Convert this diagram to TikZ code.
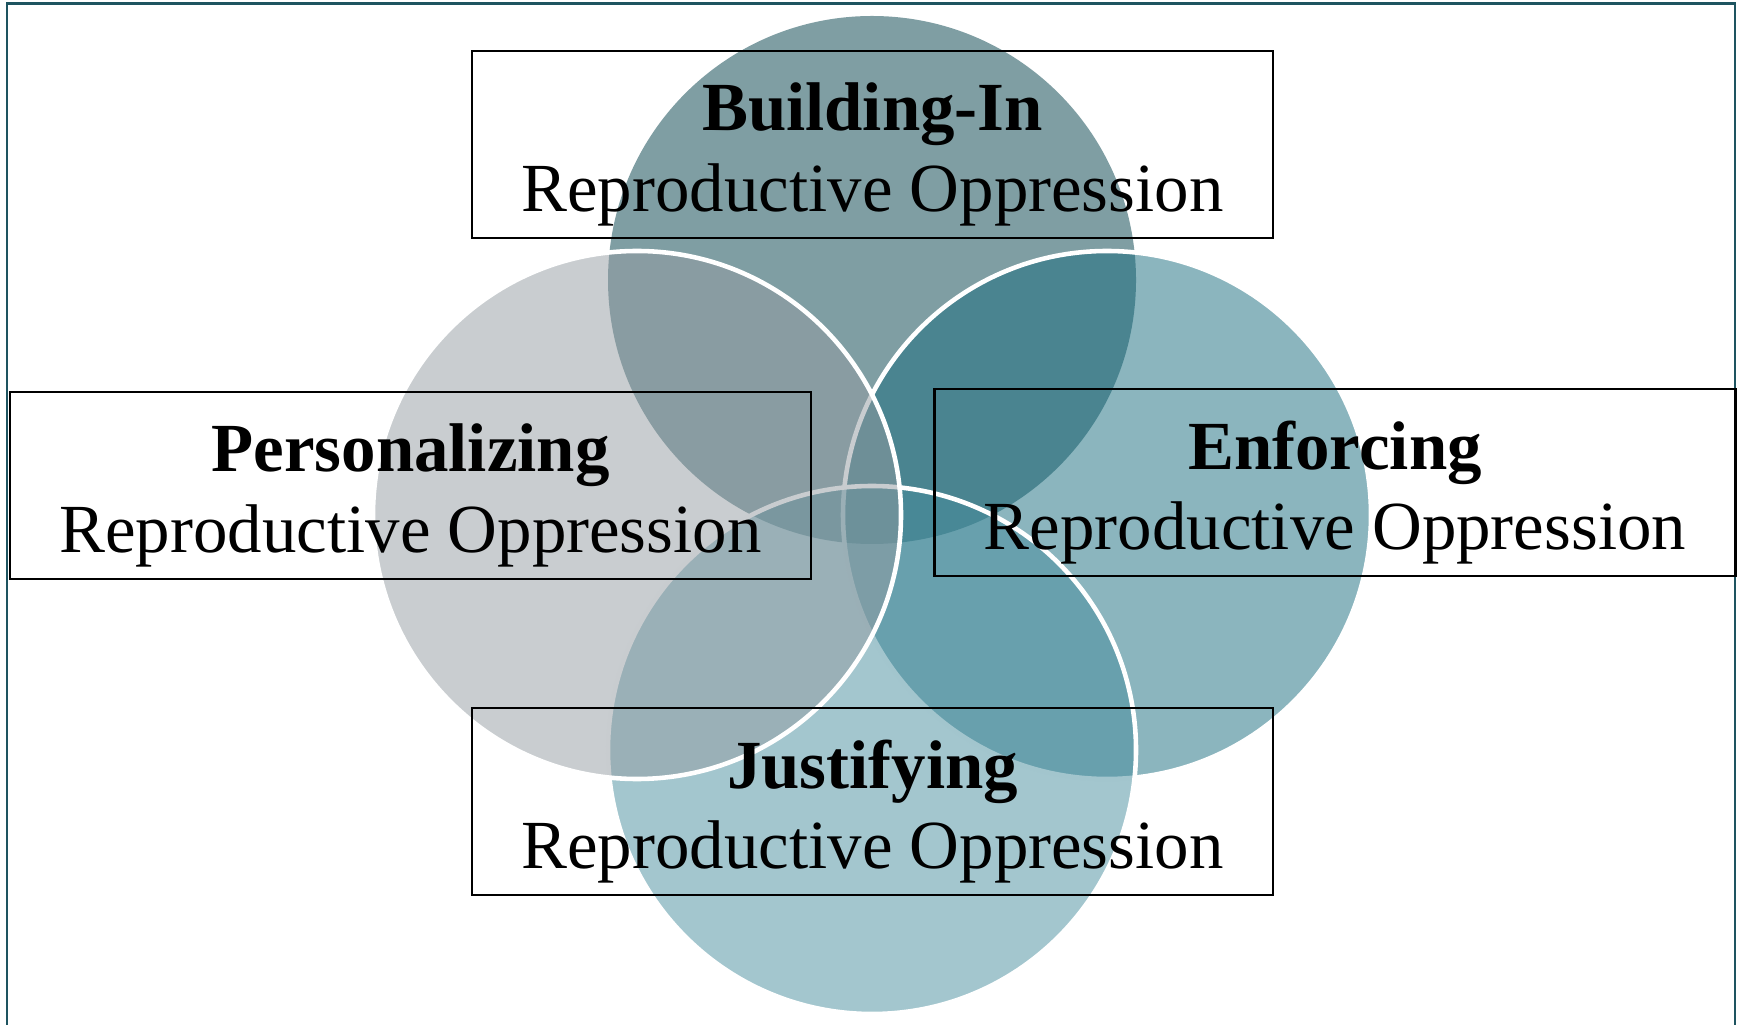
\documentclass[tikz,border=0pt]{standalone}
\usepackage{fontspec}
\setmainfont{Liberation Serif}
\usetikzlibrary{positioning}
\definecolor{frameteal}{RGB}{30,84,96}
\definecolor{buildcol}{RGB}{0,61,71}
\definecolor{enforcecol}{RGB}{23,107,125}
\definecolor{justifycol}{RGB}{71,141,157}
\definecolor{personalcol}{RGB}{147,155,161}
\tikzstyle{petal}=[%
  circle,
  inner sep=0pt,
  minimum size=52.8mm,
  fill opacity=0.5,
  draw=white,
  line width=1.3pt
]
\tikzstyle{labelbox}=[%
  draw,
  line width=0.6pt,
  minimum width=80.1mm,
  minimum height=18.7mm,
  inner sep=0pt
]
\tikzstyle{labeltext}=[%
  inner sep=0pt,
  align=center,
  font=\fontsize{19.6}{22.8}\selectfont
]
\begin{document}
\begin{tikzpicture}[x=0.1mm, y=-0.1mm]
      \useasboundingbox (0,0) rectangle (1737,1025);
      \draw[frameteal, line width=0.7pt] (7,1025) -- (7,3.5) -- (1735,3.5) -- (1735,1025);
      % four overlapping circles
      \node[petal, fill=buildcol, draw=none] (cbuild) at (872,280) {};
      \node[petal, fill=enforcecol] (cenforce) at (1107,515) {};
      \node[petal, fill=justifycol] (cjustify) at (872,750) {};
      \node[petal, fill=personalcol] (cpersonal) at (637,515) {};
      % label boxes
      \node[labelbox] (build) at (872.5,144.5) {};
      \node[labelbox] (personal) at (410.5,485.5) {};
      \node[labelbox] (enforce) at (1335,482.5) {};
      \node[labelbox] (justify) at (872.5,801.5) {};
      \foreach \name/\word in {build/Building-In, personal/Personalizing, enforce/Enforcing, justify/Justifying} {%
        \node[labeltext, yshift=-1mm] (\name-text) at (\name) {\textbf{\word}\\Reproductive Oppression};
      }
\end{tikzpicture}
\end{document}
